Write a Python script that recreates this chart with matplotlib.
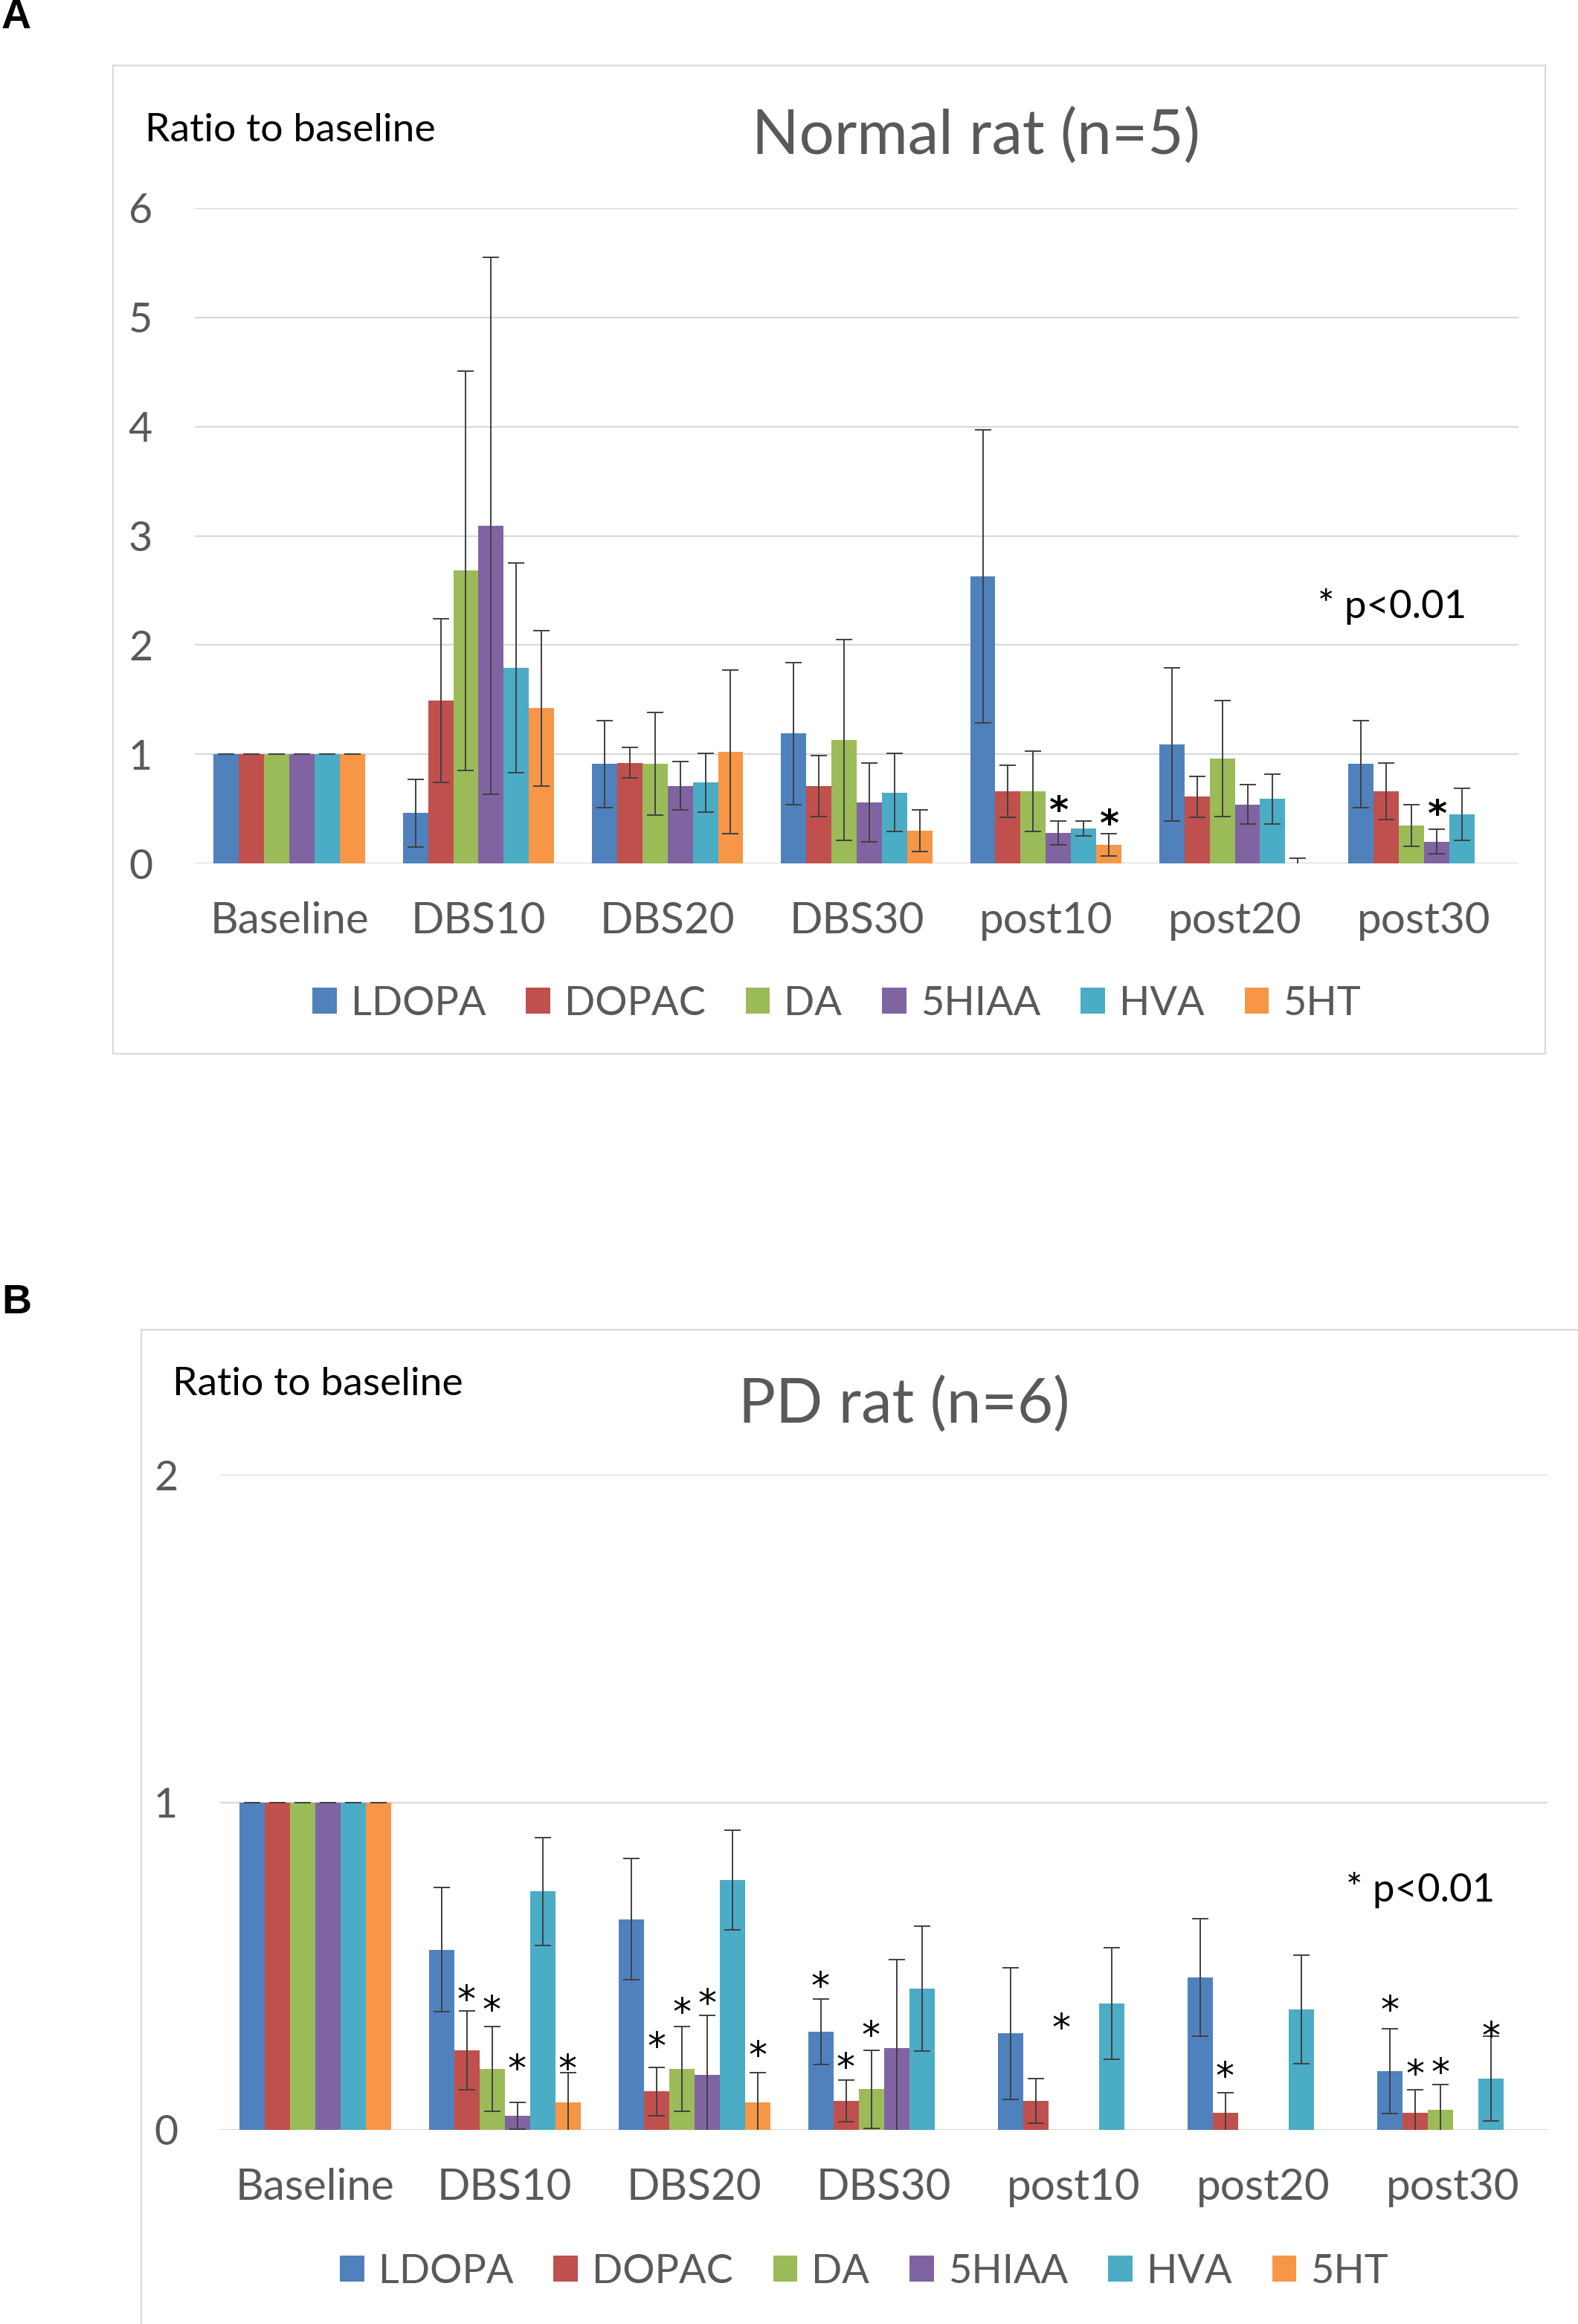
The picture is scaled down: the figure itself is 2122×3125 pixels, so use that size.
import numpy as np
import matplotlib
matplotlib.use("Agg")
import matplotlib.pyplot as plt
from matplotlib.patches import Rectangle

plt.rcParams["font.family"] = ["Lato", "DejaVu Sans"]

W, H = 2122, 3125
COLORS = ["#4F81BD", "#C0504D", "#9BBB59", "#8064A2", "#4BACC6", "#F79646"]
GRID = "#D9D9D9"
GREY_TXT = "#595959"
ERR_COL = "#404040"

categories = ["Baseline", "DBS10", "DBS20", "DBS30", "post10", "post20", "post30"]
series = ["LDOPA", "DOPAC", "DA", "5HIAA", "HVA", "5HT"]
nan = np.nan

# Panel A -- normal rat, mean ratio to baseline per series
a_ldopa = [1.0, 0.46, 0.91, 1.19, 2.63, 1.09, 0.91]
a_dopac = [1.0, 1.49, 0.92, 0.71, 0.66, 0.61, 0.66]
a_da = [1.0, 2.68, 0.91, 1.13, 0.66, 0.96, 0.35]
a_5hiaa = [1.0, 3.09, 0.71, 0.56, 0.28, 0.54, 0.20]
a_hva = [1.0, 1.79, 0.74, 0.65, 0.32, 0.59, 0.45]
a_5ht = [1.0, 1.42, 1.02, 0.30, 0.17, 0.0, nan]

a_ldopa_err = [0, 0.31, 0.40, 0.65, 1.34, 0.70, 0.40]
a_dopac_err = [0, 0.75, 0.14, 0.28, 0.24, 0.19, 0.26]
a_da_err = [0, 1.83, 0.47, 0.92, 0.37, 0.53, 0.19]
a_5hiaa_err = [0, 2.46, 0.22, 0.36, 0.11, 0.18, 0.11]
a_hva_err = [0, 0.96, 0.27, 0.36, 0.07, 0.23, 0.24]
a_5ht_err = [0, 0.71, 0.75, 0.19, 0.10, 0.05, nan]

# significance stars: category index, series name, height
a_star_cat = [4, 4, 6]
a_star_ser = ["5HIAA", "5HT", "5HIAA"]
a_star_y = [0.57, 0.45, 0.54]

# Panel B -- PD rat
b_ldopa = [1.0, 0.55, 0.643, 0.30, 0.294, 0.465, 0.179]
b_dopac = [1.0, 0.243, 0.117, 0.088, 0.088, 0.053, 0.053]
b_da = [1.0, 0.186, 0.186, 0.124, nan, nan, 0.061]
b_5hiaa = [1.0, 0.043, 0.169, 0.249, nan, nan, nan]
b_hva = [1.0, 0.728, 0.762, 0.431, 0.386, 0.368, 0.157]
b_5ht = [1.0, 0.084, 0.084, nan, nan, nan, nan]

b_ldopa_err = [0, 0.19, 0.185, 0.10, 0.20, 0.18, 0.13]
b_dopac_err = [0, 0.12, 0.073, 0.063, 0.068, 0.06, 0.07]
b_da_err = [0, 0.13, 0.13, 0.12, nan, nan, 0.077]
b_5hiaa_err = [0, 0.04, 0.18, 0.27, nan, nan, nan]
b_hva_err = [0, 0.165, 0.152, 0.19, 0.17, 0.165, 0.13]
b_5ht_err = [0, 0.09, 0.09, nan, nan, nan, nan]

b_star_cat = [1, 1, 1, 1, 2, 2, 2, 2, 3, 3, 3, 4, 5, 6, 6, 6, 6]
b_star_ser = ["DOPAC", "DA", "5HIAA", "5HT", "DOPAC", "DA", "5HIAA", "5HT",
              "LDOPA", "DOPAC", "DA", "DA", "DOPAC",
              "LDOPA", "DOPAC", "DA", "HVA"]
b_star_y = [0.428, 0.396, 0.217, 0.217, 0.284, 0.388, 0.416, 0.257,
            0.468, 0.221, 0.319, 0.34, 0.193,
            0.396, 0.20, 0.205, 0.316]


def fx(px):
    return px / W


def fy(py):
    return 1 - py / H


def draw_panel(fig, rect, means, errs, ymax, stars, legend_xy, bold_stars):
    ax = fig.add_axes(rect)
    x = np.arange(len(categories))
    bw = 0.8 / len(series)
    handles = []
    for i, (name, vals, ev) in enumerate(zip(series, means, errs)):
        vals = np.array(vals, dtype=float)
        ev = np.array(ev, dtype=float)
        ok = ~np.isnan(vals)
        xs = x + (i - (len(series) - 1) / 2) * bw
        b = ax.bar(xs[ok], vals[ok], width=bw, color=COLORS[i], label=name, zorder=2)
        ax.errorbar(xs[ok], vals[ok], yerr=ev[ok], fmt="none", ecolor=ERR_COL,
                    elinewidth=1.4, capsize=8, capthick=1.4, zorder=3)
        handles.append(b)

    for ci, sname, sy in zip(*stars):
        si = series.index(sname)
        sx = ci + (si - (len(series) - 1) / 2) * bw
        ax.annotate("*", (sx, sy), xytext=(0, -21), textcoords="offset points",
                    ha="center", va="baseline", fontsize=36, family="DejaVu Sans",
                    fontweight="bold" if bold_stars else "normal",
                    color="black", zorder=4)

    ax.set_xlim(-0.5, len(categories) - 0.5)
    ax.set_ylim(0, ymax)
    ax.set_yticks(range(0, ymax + 1))
    ax.set_xticks(x)
    ax.set_xticklabels(categories)
    for s in ax.spines.values():
        s.set_visible(False)
    ax.grid(axis="y", color=GRID, lw=1.6, zorder=0)
    ax.set_axisbelow(True)
    ax.tick_params(axis="x", length=0, pad=37, labelsize=42, labelcolor=GREY_TXT)
    ax.tick_params(axis="y", length=0, pad=41, labelsize=40, labelcolor=GREY_TXT)
    ax.patch.set_alpha(0)

    fig.legend(handles=handles, labels=series, loc="center", ncol=6,
               bbox_to_anchor=legend_xy, bbox_transform=fig.transFigure,
               frameon=False, fontsize=39, handlelength=0.6, handleheight=0.6,
               handletextpad=0.35, columnspacing=1.0, labelcolor=GREY_TXT)
    return ax


fig = plt.figure(figsize=(W / 100, H / 100), dpi=100)

# panel frames
fig.patches.append(Rectangle((fx(152), fy(1417)), fx(2078) - fx(152), fy(88) - fy(1417),
                             transform=fig.transFigure, fill=False, ec=GRID, lw=1.6))
fig.patches.append(Rectangle((fx(190), -0.02), 1.0, fy(1788) + 0.02,
                             transform=fig.transFigure, fill=False, ec=GRID, lw=1.6))

# Panel A
draw_panel(fig, [fx(262), fy(1161), fx(2042) - fx(262), fy(280) - fy(1161)],
           [a_ldopa, a_dopac, a_da, a_5hiaa, a_hva, a_5ht],
           [a_ldopa_err, a_dopac_err, a_da_err, a_5hiaa_err, a_hva_err, a_5ht_err],
           6, (a_star_cat, a_star_ser, a_star_y), (fx(1125), fy(1349)), True)

fig.text(fx(2), fy(24), "A", fontsize=40, fontweight="bold", family="Liberation Sans",
         ha="left", va="center")
fig.text(fx(195), fy(175), "Ratio to baseline", fontsize=38.5, ha="left", va="center")
fig.text(fx(1312), fy(184), "Normal rat (n=5)", fontsize=60, color=GREY_TXT,
         ha="center", va="center")
fig.text(fx(1772), fy(816), "* p<0.01", fontsize=38, ha="left", va="center")

# Panel B
draw_panel(fig, [fx(296), fy(2864), fx(2081) - fx(296), fy(1983) - fy(2864)],
           [b_ldopa, b_dopac, b_da, b_5hiaa, b_hva, b_5ht],
           [b_ldopa_err, b_dopac_err, b_da_err, b_5hiaa_err, b_hva_err, b_5ht_err],
           2, (b_star_cat, b_star_ser, b_star_y), (fx(1162), fy(3054)), False)

fig.text(fx(2), fy(1752), "B", fontsize=40, fontweight="bold", family="Liberation Sans",
         ha="left", va="center")
fig.text(fx(232), fy(1862), "Ratio to baseline", fontsize=38.5, ha="left", va="center")
fig.text(fx(1216), fy(1890), "PD rat (n=6)", fontsize=60, color=GREY_TXT,
         ha="center", va="center")
fig.text(fx(1810), fy(2542), "* p<0.01", fontsize=38, ha="left", va="center")

fig.savefig("out.png", dpi=100, facecolor="white")
